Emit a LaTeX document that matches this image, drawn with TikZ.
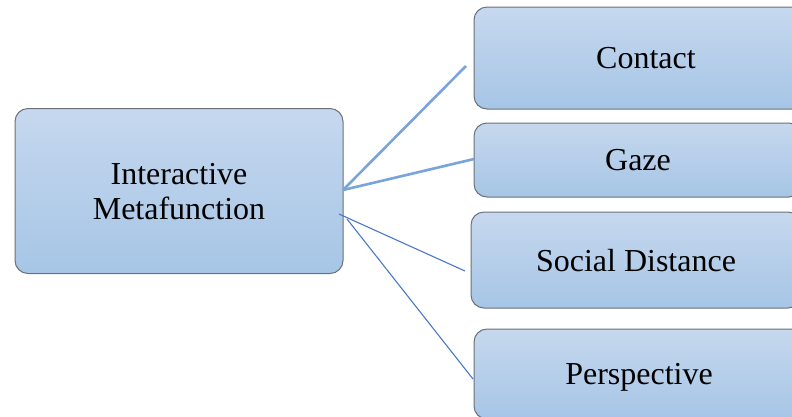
\documentclass[tikz,border=0pt]{standalone}
\usepackage{fontspec}
\setmainfont{Liberation Serif}
\definecolor{boxtop}{HTML}{C6D8EE}
\definecolor{boxbot}{HTML}{A6C5E6}
\definecolor{boxline}{HTML}{6A717A}
\definecolor{thickline}{HTML}{77A5DA}
\definecolor{thinline}{HTML}{4A78C8}
\tikzset{
  box/.style={draw=boxline, line width=1pt, rounded corners=13pt,
    top color=boxtop, bottom color=boxbot, align=center, inner sep=0pt,
    text depth=0pt, font=\fontsize{32}{35}\selectfont},
  thickconn/.style={draw=thickline, line width=2.6pt},
  thinconn/.style={draw=thinline, line width=1.1pt}
}
\begin{document}
\begin{tikzpicture}[x=1pt,y=-1pt]
\useasboundingbox (0,0) rectangle (792,416);
\clip (0,0) rectangle (792,416);
\node[box, minimum width=328pt, minimum height=165pt] (main) at (179,191) {Interactive\\Metafunction};
\node[box, minimum width=344pt, minimum height=102pt] (contact) at (646,58) {Contact};
\node[box, minimum width=328pt, minimum height=74pt] (gaze) at (638,160) {Gaze};
\node[box, minimum width=330pt, minimum height=96pt] (social) at (636,260) {Social Distance};
\node[box, minimum width=330pt, minimum height=90pt] (persp) at (639,374) {Perspective};
\coordinate (s1) at (343,190);
\coordinate (e1) at (466,66);
\coordinate (e2) at (474,159);
\coordinate (s3) at (339,214);
\coordinate (e3) at (465,271);
\coordinate (s4) at (347,219);
\coordinate (e4) at (473,379);
\draw[thickconn] (s1) -- (e1);
\draw[thickconn] (s1) -- (e2);
\draw[thinconn] (s3) -- (e3);
\draw[thinconn] (s4) -- (e4);
\end{tikzpicture}
\end{document}
